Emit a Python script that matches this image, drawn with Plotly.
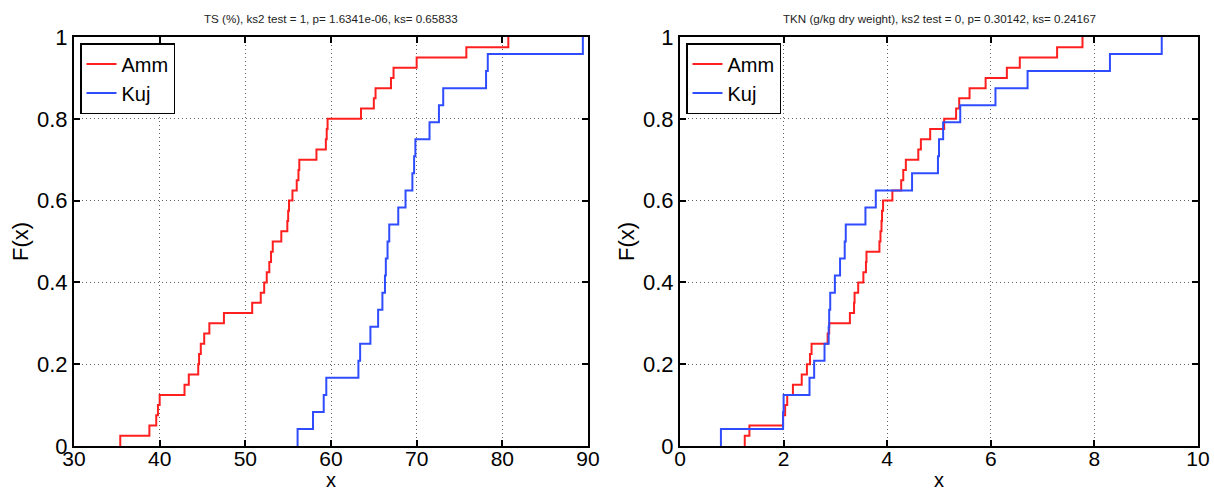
import numpy as np
import plotly.graph_objects as go

# ---------------- data ----------------
series_names = ["Amm", "Kuj"]

ts_amm = [35.4, 38.8, 39.6, 39.8, 40.0, 42.9, 43.4, 44.5, 44.6, 44.8,
          45.2, 45.8, 47.5, 50.8, 51.8, 52.2, 52.5, 52.8, 53.0, 53.2,
          54.2, 54.9, 55.0, 55.1, 55.5, 56.0, 56.2, 56.3, 58.3, 59.4,
          59.5, 59.6, 63.5, 65.0, 65.2, 67.0, 67.3, 70.0, 75.8, 80.7]
ts_kuj = [56.1, 57.9, 59.15, 59.45, 63.2, 63.4, 64.6, 65.5, 66.0, 66.3,
          66.4, 66.6, 66.8, 67.85, 68.7, 69.5, 69.7, 69.85, 71.5, 72.6,
          73.1, 78.1, 78.3, 89.4]

tkn_amm = [1.25, 1.34, 1.99, 2.03, 2.07, 2.18, 2.35, 2.45, 2.51, 2.54,
           2.85, 2.88, 3.28, 3.36, 3.37, 3.44, 3.54, 3.59, 3.60, 3.85,
           3.87, 3.89, 3.90, 3.92, 4.10, 4.27, 4.31, 4.36, 4.60, 4.65,
           4.83, 5.10, 5.33, 5.39, 5.59, 5.90, 6.31, 6.56, 7.28, 7.77]
tkn_kuj = [0.79, 1.99, 2.00, 2.50, 2.59, 2.79, 2.87, 2.88, 2.90, 2.99,
           3.09, 3.18, 3.20, 3.58, 3.78, 4.48, 4.98, 5.00, 5.08, 5.41,
           6.09, 6.71, 8.30, 9.30]

titles = ["TS (%), ks2 test = 1, p= 1.6341e-06, ks= 0.65833",
          "TKN (g/kg dry weight), ks2 test = 0, p= 0.30142, ks= 0.24167"]
x_label = "x"
y_label = "F(x)"
left_x_ticks = [30, 40, 50, 60, 70, 80, 90]
right_x_ticks = [0, 2, 4, 6, 8, 10]
y_ticks = [0, 0.2, 0.4, 0.6, 0.8, 1]

RED = "#ff1f1f"
BLUE = "#2f4dff"
FONT = "Liberation Sans"


def ecdf_xy(vals):
    v = np.sort(np.asarray(vals, dtype=float))
    n = len(v)
    x = np.concatenate([[v[0]], v])
    y = np.arange(n + 1) / n
    return x, y


fig = go.Figure()

panels = [
    (ts_amm, ts_kuj, "x", "y", "legend"),
    (tkn_amm, tkn_kuj, "x2", "y2", "legend2"),
]
for amm, kuj, xa, ya, lg in panels:
    for vals, name, col in ((amm, series_names[0], RED), (kuj, series_names[1], BLUE)):
        x, y = ecdf_xy(vals)
        fig.add_trace(go.Scatter(
            x=x, y=y, mode="lines", name=name,
            line=dict(color=col, width=2, shape="hv"),
            xaxis=xa, yaxis=ya, legend=lg, showlegend=True,
        ))

W, H = 1214, 493
ML, MR, MT, MB = 74, 16, 37, 47
PW = W - ML - MR
PH = H - MT - MB


def px_x(p):
    return (p - ML) / PW


def px_y(p):
    return 1 - (p - MT) / PH


common = dict(
    showline=True, linecolor="black", linewidth=2, mirror="ticks",
    ticks="inside", ticklen=6, tickwidth=2, tickcolor="black",
    showgrid=True, gridcolor="rgba(60,60,60,0.8)", griddash="1px,3px", gridwidth=1,
    zeroline=False, automargin=False,
    tickfont=dict(family=FONT, size=22, color="black"),
    title_font=dict(family=FONT, size=22, color="black"),
)
x_tickfont = dict(family=FONT, size=21, color="black")

dom1 = [px_x(74), px_x(588)]
dom2 = [px_x(680), px_x(1198)]

leg_common = dict(xanchor="left", yanchor="top",
                  bgcolor="white", bordercolor="black", borderwidth=1.5,
                  font=dict(family=FONT, size=20, color="black"),
                  tracegroupgap=0, itemwidth=30)

fig.update_layout(
    width=W, height=H,
    margin=dict(l=ML, r=MR, t=MT, b=MB),
    paper_bgcolor="white", plot_bgcolor="white",
    font=dict(family=FONT, color="black"),
    xaxis=dict(domain=dom1, range=[30, 90], tickvals=left_x_ticks,
               anchor="y", ticklabelstandoff=-7, **common),
    yaxis=dict(domain=[0, 1], range=[0, 1], tickvals=y_ticks,
               anchor="x", title=dict(text=y_label, standoff=2), **common),
    xaxis2=dict(domain=dom2, range=[0, 10], tickvals=right_x_ticks,
                anchor="y2", ticklabelstandoff=-7, **common),
    yaxis2=dict(domain=[0, 1], range=[0, 1], tickvals=y_ticks,
                anchor="x2", title=dict(text=y_label, standoff=2), **common),
    legend=dict(x=px_x(80), y=px_y(43), **leg_common),
    legend2=dict(x=px_x(686), y=px_y(43), **leg_common),
    showlegend=True,
)
fig.update_xaxes(tickfont=x_tickfont)

for dom, t in ((dom1, titles[0]), (dom2, titles[1])):
    cx = (dom[0] + dom[1]) / 2
    fig.add_annotation(
        x=cx, y=px_y(18), xref="paper", yref="paper",
        text=t, showarrow=False, xanchor="center", yanchor="middle",
        font=dict(family=FONT, size=11.6, color="#222"),
    )
    # x-axis title, placed as in the reference (at the very bottom edge)
    fig.add_annotation(
        x=cx, y=px_y(493), xref="paper", yref="paper",
        text=x_label, showarrow=False, xanchor="center", yanchor="bottom",
        font=dict(family=FONT, size=20, color="black"),
    )

fig.write_html("out.html")
